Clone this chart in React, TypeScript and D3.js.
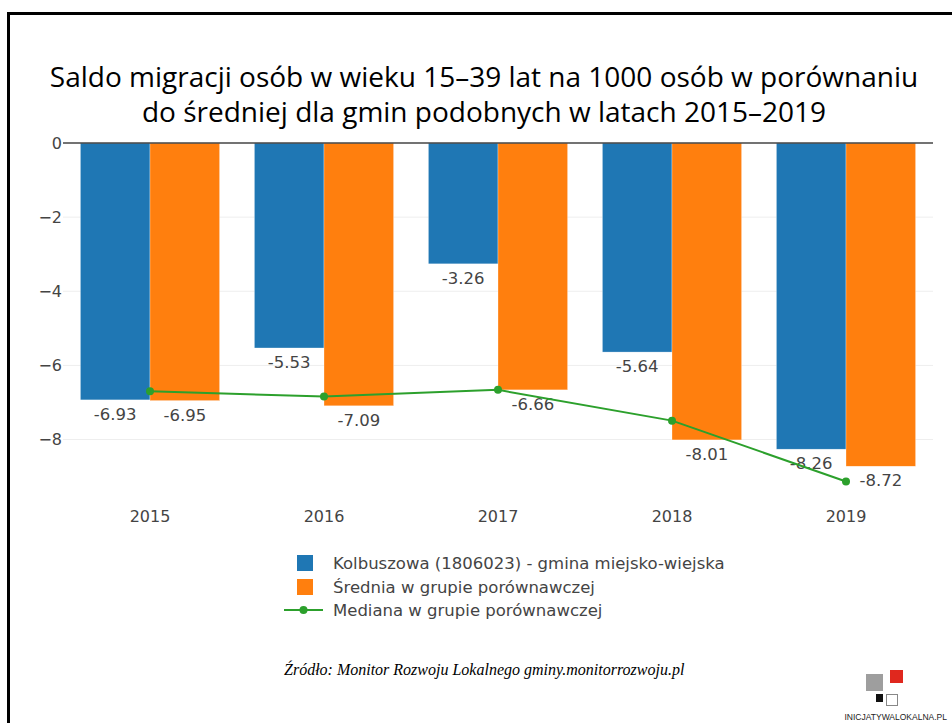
import * as d3 from 'd3';

// ---------------------------------------------------------------------------
// Data
// ---------------------------------------------------------------------------
const YEARS = ['2015', '2016', '2017', '2018', '2019'];
const KOLBUSZOWA = [-6.93, -5.53, -3.26, -5.64, -8.26];
const SREDNIA = [-6.95, -7.09, -6.66, -8.01, -8.72];
const MEDIANA = [-6.7, -6.84, -6.66, -7.49, -9.13];
const Y_TICKS = [0, -2, -4, -6, -8];

const SERIES_NAMES = [
  'Kolbuszowa (1806023) - gmina miejsko-wiejska',
  'Średnia w grupie porównawczej',
  'Mediana w grupie porównawczej',
];

const TITLE_LINES = [
  'Saldo migracji osób w wieku 15–39 lat na 1000 osób w porównaniu',
  'do średniej dla gmin podobnych w latach 2015–2019',
];
const SOURCE = 'Źródło: Monitor Rozwoju Lokalnego gminy.monitorrozwoju.pl';

// ---------------------------------------------------------------------------
// Colors
// ---------------------------------------------------------------------------
const BLUE = '#1f77b4';
const ORANGE = '#ff7f0e';
const GREEN = '#2ca02c';
const TEXT = '#444';
const GRID = '#eeeeee';
const FONT = '"DejaVu Sans", Verdana, sans-serif';

const W = 952;
const H = 723;

export default function App() {
  const plot = { left: 63, right: 933, top: 143, bottom: 497 };

  const x = d3
    .scaleBand<string>()
    .domain(YEARS)
    .range([plot.left, plot.right])
    .paddingInner(0.2)
    .paddingOuter(0.1);

  const sub = d3
    .scaleBand<string>()
    .domain(['a', 'b'])
    .range([0, x.bandwidth()]);

  const y = d3.scaleLinear().domain([-9.55, 0]).range([plot.bottom, plot.top]);

  const fmtTick = (v: number) => (v < 0 ? '\u2212' + Math.abs(v) : String(v));

  const medLine = d3
    .line<number>()
    .x((_, i) => (x(YEARS[i]) ?? 0) + x.bandwidth() / 2)
    .y((d) => y(d));

  const bars = [
    { key: 'a', values: KOLBUSZOWA, color: BLUE },
    { key: 'b', values: SREDNIA, color: ORANGE },
  ];

  const legendX = 297;
  const legendY = [563, 587, 610];

  return (
    <svg
      width={W}
      height={H}
      style={{ position: 'absolute', left: 0, top: 0, background: '#fff' }}
    >
      {/* slide frame */}
      <line x1={8.5} x2={8.5} y1={12} y2={H} stroke="#000" strokeWidth={3} />
      <line x1={7} x2={W} y1={13.5} y2={13.5} stroke="#000" strokeWidth={3} />

      {/* title */}
      {TITLE_LINES.map((t, i) => (
        <text
          key={i}
          x={484}
          y={87 + i * 35}
          textAnchor="middle"
          fontFamily='"Open Sans", sans-serif'
          fontSize={28}
          fill="#000"
        >
          {t}
        </text>
      ))}

      {/* grid + y ticks */}
      {Y_TICKS.map((t) => (
        <g key={t}>
          {t !== 0 && (
            <line x1={plot.left} x2={plot.right} y1={y(t)} y2={y(t)} stroke={GRID} strokeWidth={1} />
          )}
          <text
            x={plot.left - 1}
            y={y(t)}
            dy="0.36em"
            textAnchor="end"
            fontFamily={FONT}
            fontSize={16}
            fill={TEXT}
          >
            {fmtTick(t)}
          </text>
        </g>
      ))}

      {/* bars */}
      {bars.map((s) =>
        s.values.map((v, i) => {
          const bx = (x(YEARS[i]) ?? 0) + (sub(s.key) ?? 0);
          return (
            <g key={s.key + i}>
              <rect
                x={bx}
                y={y(0)}
                width={sub.bandwidth()}
                height={y(v) - y(0)}
                fill={s.color}
                stroke="rgba(255,255,255,0.6)"
                strokeWidth={0.5}
              />
              <text
                x={bx + sub.bandwidth() / 2}
                y={y(v) + 20}
                textAnchor="middle"
                fontFamily={FONT}
                fontSize={16.5}
                fill={TEXT}
              >
                {v.toFixed(2)}
              </text>
            </g>
          );
        })
      )}

      {/* zero line */}
      <line x1={plot.left} x2={plot.right} y1={y(0)} y2={y(0)} stroke={TEXT} strokeWidth={1.5} />

      {/* median line */}
      <path d={medLine(MEDIANA) ?? ''} fill="none" stroke={GREEN} strokeWidth={2} />
      {MEDIANA.map((v, i) => (
        <circle
          key={i}
          cx={(x(YEARS[i]) ?? 0) + x.bandwidth() / 2}
          cy={y(v)}
          r={4}
          fill={GREEN}
        />
      ))}

      {/* x tick labels */}
      {YEARS.map((yr) => (
        <text
          key={yr}
          x={(x(yr) ?? 0) + x.bandwidth() / 2}
          y={522}
          textAnchor="middle"
          fontFamily={FONT}
          fontSize={16}
          fill={TEXT}
        >
          {yr}
        </text>
      ))}

      {/* legend */}
      <rect x={legendX} y={legendY[0] - 8} width={16} height={16} fill={BLUE} />
      <rect x={legendX} y={legendY[1] - 8} width={16} height={16} fill={ORANGE} />
      <line x1={284} x2={323} y1={legendY[2]} y2={legendY[2]} stroke={GREEN} strokeWidth={2} />
      <circle cx={303.5} cy={legendY[2]} r={4} fill={GREEN} />
      {SERIES_NAMES.map((n, i) => (
        <text
          key={n}
          x={333}
          y={legendY[i]}
          dy="0.36em"
          fontFamily={FONT}
          fontSize={16.5}
          fill={TEXT}
        >
          {n}
        </text>
      ))}

      {/* source */}
      <text
        x={284}
        y={675}
        fontFamily='"Liberation Serif", "Times New Roman", serif'
        fontStyle="italic"
        fontSize={16}
        fill="#000"
      >
        {SOURCE}
      </text>

      {/* logo */}
      <rect x={866} y={674} width={17} height={17} fill="#9e9e9e" />
      <rect x={890} y={670} width={13} height={13} fill="#e0281e" />
      <rect x={876} y={694} width={7} height={8} fill="#111" />
      <rect x={886.5} y={694.5} width={11} height={11} fill="#fff" stroke="#888" strokeWidth={1} />
      <text
        x={947}
        y={720}
        textAnchor="end"
        fontFamily='"Liberation Sans", Arial, sans-serif'
        fontSize={8.5}
        fill="#222"
      >
        INICJATYWALOKALNA.PL
      </text>
    </svg>
  );
}
